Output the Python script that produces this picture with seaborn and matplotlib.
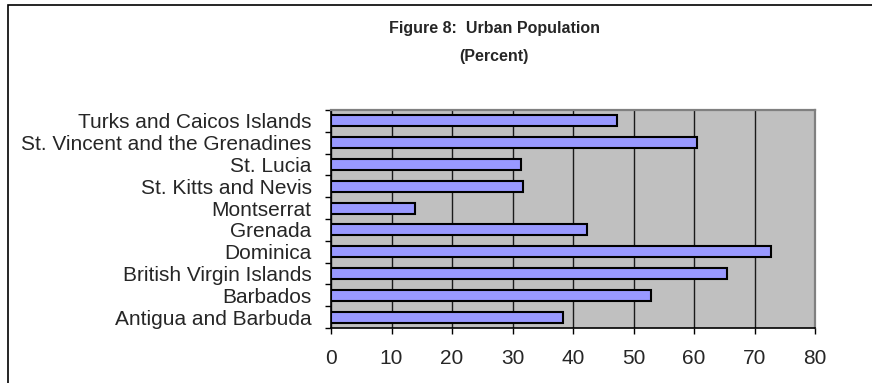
import matplotlib
matplotlib.use("Agg")
import matplotlib.pyplot as plt
import seaborn as sns
import pandas as pd
from matplotlib.patches import Rectangle

sns.set_theme(style="white")
plt.rcParams["font.family"] = ["Liberation Sans", "DejaVu Sans"]

countries = [
    "Turks and Caicos Islands",
    "St. Vincent and the Grenadines",
    "St. Lucia",
    "St. Kitts and Nevis",
    "Montserrat",
    "Grenada",
    "Dominica",
    "British Virgin Islands",
    "Barbados",
    "Antigua and Barbuda",
]
urban_pct = [47.3, 60.5, 31.4, 31.7, 13.9, 42.3, 72.7, 65.5, 52.9, 38.3]
x_ticks = [0, 10, 20, 30, 40, 50, 60, 70, 80]

df = pd.DataFrame({"country": countries, "pct": urban_pct})

W, H = 872, 383
fig = plt.figure(figsize=(W / 100, H / 100), dpi=100)

# outer chart frame
fig.patches.append(Rectangle((8 / W, -0.05), 1.1, 1 - 5 / H + 0.05,
                             transform=fig.transFigure, fill=False,
                             edgecolor="black", linewidth=1.2))

ax = fig.add_axes([331 / W, 1 - 328 / H, (815 - 331) / W, (328 - 110) / H])
ax.set_facecolor("#C0C0C0")

sns.barplot(data=df, x="pct", y="country", orient="h", ax=ax,
            color="#9999FF", width=0.5, saturation=1,
            edgecolor="black", linewidth=1.5, zorder=3)

ax.set_xlim(0, 80)
ax.set_xticks(x_ticks)
ax.set_xticklabels([str(t) for t in x_ticks])
ax.set_ylim(len(countries) - 0.5, -0.5)
ax.set_xlabel("")
ax.set_ylabel("")

ax.grid(axis="x", color="#1a1a1a", linewidth=1.0, zorder=1)
ax.grid(axis="y", visible=False)
ax.set_axisbelow(True)

# category labels centred, tick marks between categories
ax.tick_params(axis="y", which="major", length=0, pad=14, labelsize=15)
ax.set_yticks([i - 0.5 for i in range(len(countries) + 1)], minor=True)
ax.tick_params(axis="y", which="minor", length=4, width=1, color="black",
               direction="out", left=True)
ax.tick_params(axis="x", which="major", length=4, width=1, color="black",
               direction="out", bottom=True, pad=11, labelsize=15)

for side in ("left", "bottom"):
    ax.spines[side].set_color("black")
    ax.spines[side].set_linewidth(1.2)
for side in ("top", "right"):
    ax.spines[side].set_color("#808080")
    ax.spines[side].set_linewidth(1.6)

fig.text(494 / W, 1 - 29 / H, "Figure 8:  Urban Population",
         ha="center", va="center", fontsize=11.5, fontweight="bold")
fig.text(494 / W, 1 - 57 / H, "(Percent)",
         ha="center", va="center", fontsize=11.5, fontweight="bold")

fig.savefig("out.png", dpi=100)
